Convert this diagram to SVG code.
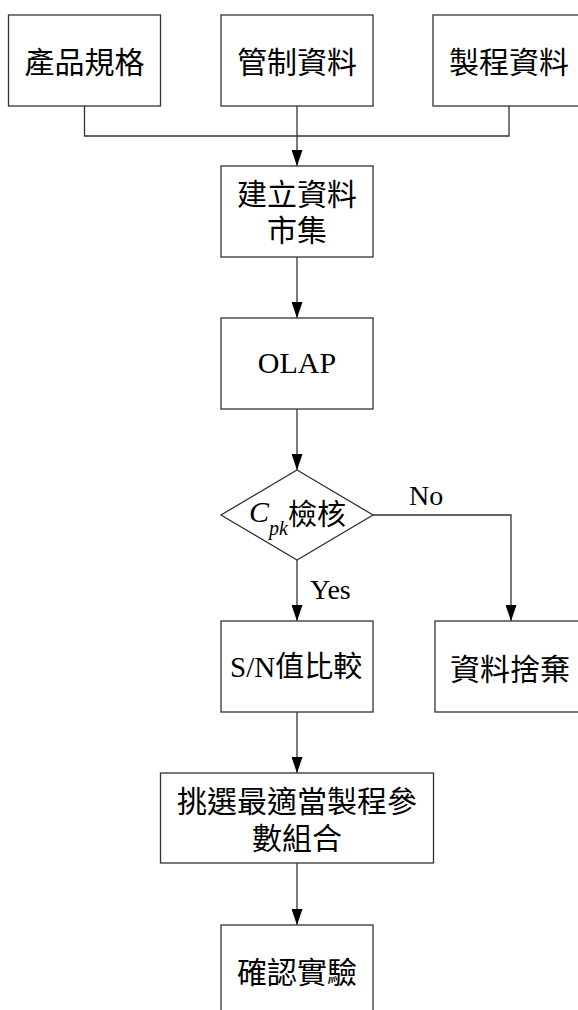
<svg xmlns="http://www.w3.org/2000/svg" width="578" height="1010" viewBox="0 0 578 1010">
<style>
.box{fill:#fff;stroke:#333;stroke-width:1.3}
.cjk{font-family:"Noto Sans CJK TC","Noto Sans CJK SC",sans-serif;font-size:30px;fill:#000;text-anchor:middle;dominant-baseline:central}
.lat{font-family:"Liberation Serif",serif;font-size:28px;fill:#000}
.cj{font-family:"Noto Sans CJK TC","Noto Sans CJK SC",sans-serif;font-style:normal}
.conn{fill:none;stroke:#333;stroke-width:1.3}
</style>
<defs>
<marker id="arr" markerUnits="userSpaceOnUse" markerWidth="16" markerHeight="11" refX="16" refY="5.5" orient="auto" viewBox="0 0 16 11">
<path d="M0,0 L16,5.5 L0,11 Z" fill="#000"/>
</marker>
</defs>
<rect width="578" height="1010" fill="#fff"/>
<g id="connectors">
<polyline class="conn" points="84.5,106 84.5,136 509,136 509,106"/>
<line class="conn" x1="297" y1="106" x2="297" y2="166" marker-end="url(#arr)"/>
<line class="conn" x1="297" y1="257" x2="297" y2="318" marker-end="url(#arr)"/>
<line class="conn" x1="297" y1="409" x2="297" y2="470" marker-end="url(#arr)"/>
<line class="conn" x1="297" y1="560" x2="297" y2="621" marker-end="url(#arr)"/>
<polyline class="conn" points="373,515 511,515 511,621" marker-end="url(#arr)"/>
<line class="conn" x1="297" y1="712" x2="297" y2="773" marker-end="url(#arr)"/>
<line class="conn" x1="297" y1="863" x2="297" y2="925" marker-end="url(#arr)"/>
<text class="lat" x="409" y="505">No</text>
<text class="lat" x="310" y="599">Yes</text>
</g>
<g id="n1"><rect class="box" x="8.5" y="15" width="152" height="91"/><text class="cjk" x="84.5" y="60">產品規格</text></g>
<g id="n2"><rect class="box" x="221" y="15" width="152" height="91"/><text class="cjk" x="297" y="60">管制資料</text></g>
<g id="n3"><rect class="box" x="433" y="15" width="152" height="91"/><text class="cjk" x="509" y="60">製程資料</text></g>
<g id="n4"><rect class="box" x="221" y="166" width="152" height="91"/><text class="cjk" x="297" y="192">建立資料<tspan x="297" dy="36">市集</tspan></text></g>
<g id="n5"><rect class="box" x="221" y="318" width="152" height="91"/><text class="lat" x="297" y="373" text-anchor="middle" style="font-size:30px">OLAP</text></g>
<g id="n6"><polygon class="box" points="297,470 373,515 297,560 221,515"/>
<text x="249" y="522" style="font-family:'Liberation Serif',serif;font-style:italic;font-size:30px">C<tspan dy="13" style="font-size:20px">pk</tspan><tspan class="cj" dy="-10" style="font-size:29px">檢核</tspan></text></g>
<g id="n7"><rect class="box" x="221" y="621" width="152" height="91"/>
<text x="230" y="677" style="font-family:'Liberation Serif',serif;font-size:29px">S/N<tspan class="cj">值比較</tspan></text></g>
<g id="n8"><rect class="box" x="435" y="621" width="152" height="91"/><text class="cjk" x="510" y="667">資料捨棄</text></g>
<g id="n9"><rect class="box" x="160.5" y="773" width="273" height="90"/><text class="cjk" x="297" y="799">挑選最適當製程參<tspan x="297" dy="37">數組合</tspan></text></g>
<g id="n10"><rect class="box" x="221" y="925" width="152" height="91"/><text class="cjk" x="297" y="970">確認實驗</text></g>
</svg>
